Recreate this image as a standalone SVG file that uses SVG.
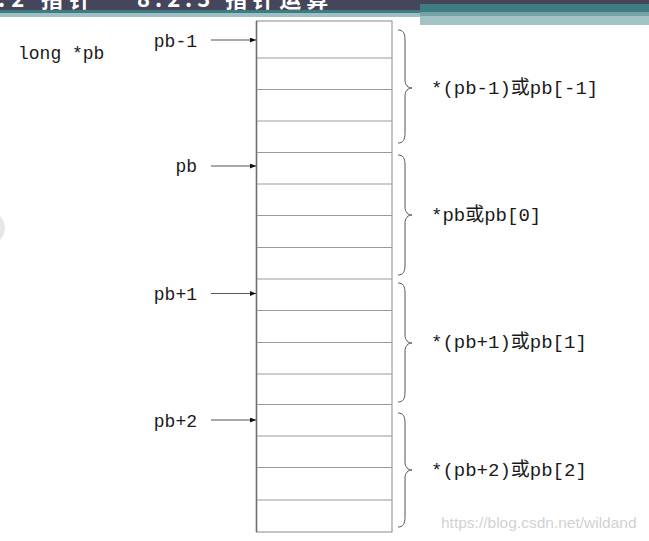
<svg xmlns="http://www.w3.org/2000/svg" width="649" height="541" viewBox="0 0 649 541">
<style>
.lbl{font-family:"Liberation Mono","DejaVu Sans Mono","Noto Sans CJK SC",monospace;font-size:18px;fill:#1a1a1a}
.rl{font-family:"Liberation Mono","DejaVu Sans Mono","Noto Sans CJK SC",monospace;font-size:19px;fill:#1a1a1a}
.row{stroke:#9a9a9a;stroke-width:1}
.brace{fill:none;stroke:#555;stroke-width:1}
.ptr{stroke:#555;stroke-width:1.2;fill:none}
.hd{font-family:"Noto Sans CJK SC","Liberation Sans",sans-serif;font-size:22px;font-weight:bold;fill:#ffffff}
</style>
<defs>
<marker id="ah" markerWidth="7" markerHeight="6" refX="6" refY="2.5" orient="auto" markerUnits="userSpaceOnUse">
<path d="M0,0 L6,2.5 L0,5 z" fill="#111"/>
</marker>
<clipPath id="hdclip"><rect x="0" y="0" width="420" height="10"/></clipPath>
</defs>
<rect width="649" height="541" fill="#ffffff"/>
<!-- header -->
<g id="header">
<rect x="0" y="0" width="649" height="4" fill="#45465c"/>
<rect x="0" y="4" width="420" height="6" fill="#45465c"/>
<rect x="420" y="4" width="229" height="8" fill="#3f7c81"/>
<rect x="0" y="10" width="420" height="3" fill="#3f7c81"/>
<rect x="0" y="13" width="420" height="4" fill="#9fc0c2"/>
<rect x="420" y="12" width="229" height="4" fill="#76a3a5"/>
<rect x="420" y="16" width="229" height="9" fill="#a2c3c4"/>
<g clip-path="url(#hdclip)">
<text class="hd" x="-2" y="7" letter-spacing="6">.2 指针</text>
<text class="hd" x="137" y="7" letter-spacing="5">8.2.3 指针运算</text>
</g>
</g>
<circle cx="-12" cy="228" r="17" fill="#e6e6e6"/>
<text class="lbl" x="18" y="59">long *pb</text>
<!-- memory block -->
<g id="memory">
<rect x="256.5" y="21" width="135.5" height="511" fill="#fff" stroke="#8a8a8a" stroke-width="1"/>
<line x1="256.5" y1="21" x2="256.5" y2="532" stroke="#6e6e6e" stroke-width="1.6"/>
<g class="row">
<line x1="257" y1="58" x2="392" y2="58"/>
<line x1="257" y1="89.5" x2="392" y2="89.5"/>
<line x1="257" y1="121" x2="392" y2="121"/>
<line x1="257" y1="152.5" x2="392" y2="152.5"/>
<line x1="257" y1="184" x2="392" y2="184"/>
<line x1="257" y1="215.5" x2="392" y2="215.5"/>
<line x1="257" y1="247.5" x2="392" y2="247.5"/>
<line x1="257" y1="279" x2="392" y2="279"/>
<line x1="257" y1="310.5" x2="392" y2="310.5"/>
<line x1="257" y1="342.5" x2="392" y2="342.5"/>
<line x1="257" y1="374" x2="392" y2="374"/>
<line x1="257" y1="404.5" x2="392" y2="404.5"/>
<line x1="257" y1="436" x2="392" y2="436"/>
<line x1="257" y1="467.5" x2="392" y2="467.5"/>
<line x1="257" y1="500" x2="392" y2="500"/>
</g>
</g>
<!-- pointer labels -->
<g id="p_m1"><text class="lbl" x="197" y="46.5" text-anchor="end">pb-1</text></g>
<g id="p_0"><text class="lbl" x="197" y="172" text-anchor="end">pb</text></g>
<g id="p_1"><text class="lbl" x="197" y="300" text-anchor="end">pb+1</text></g>
<g id="p_2"><text class="lbl" x="197" y="426.5" text-anchor="end">pb+2</text></g>
<!-- connectors -->
<g id="connectors">
<line class="ptr" x1="211" y1="40" x2="256" y2="40" marker-end="url(#ah)"/>
<line class="ptr" x1="211" y1="166" x2="256" y2="166" marker-end="url(#ah)"/>
<line class="ptr" x1="211" y1="293.5" x2="256" y2="293.5" marker-end="url(#ah)"/>
<line class="ptr" x1="211" y1="420" x2="256" y2="420" marker-end="url(#ah)"/>
</g>
<!-- braces -->
<g id="braces">
<path class="brace" d="M398,30 C403,30 405,33 405,40 L405,80 C405,85 408,88 412,88 C408,88 405,91 405,96 L405,133 C405,140 403,143 398,143"/>
<path class="brace" d="M398,155 C403,155 405,158 405,165 L405,207 C405,212 408,215 412,215 C408,215 405,218 405,223 L405,265 C405,272 403,275 398,275"/>
<path class="brace" d="M398,283 C403,283 405,286 405,293 L405,335 C405,340 408,343 412,343 C408,343 405,346 405,351 L405,392 C405,399 403,402 398,402"/>
<path class="brace" d="M398,413 C403,413 405,416 405,423 L405,462 C405,467 408,470 412,470 C408,470 405,473 405,478 L405,517 C405,524 403,527 398,527"/>
</g>
<!-- value labels -->
<g id="v_m1"><text class="rl" x="431" y="94">*(pb-1)或pb[-1]</text></g>
<g id="v_0"><text class="rl" x="431" y="221">*pb或pb[0]</text></g>
<g id="v_1"><text class="rl" x="431" y="348">*(pb+1)或pb[1]</text></g>
<g id="v_2"><text class="rl" x="431" y="476">*(pb+2)或pb[2]</text></g>
<text x="441" y="528" font-family="Liberation Sans, Arial, sans-serif" font-size="15.5" fill="#d2d2d2">https://blog.csdn.net/wildand</text>
</svg>
